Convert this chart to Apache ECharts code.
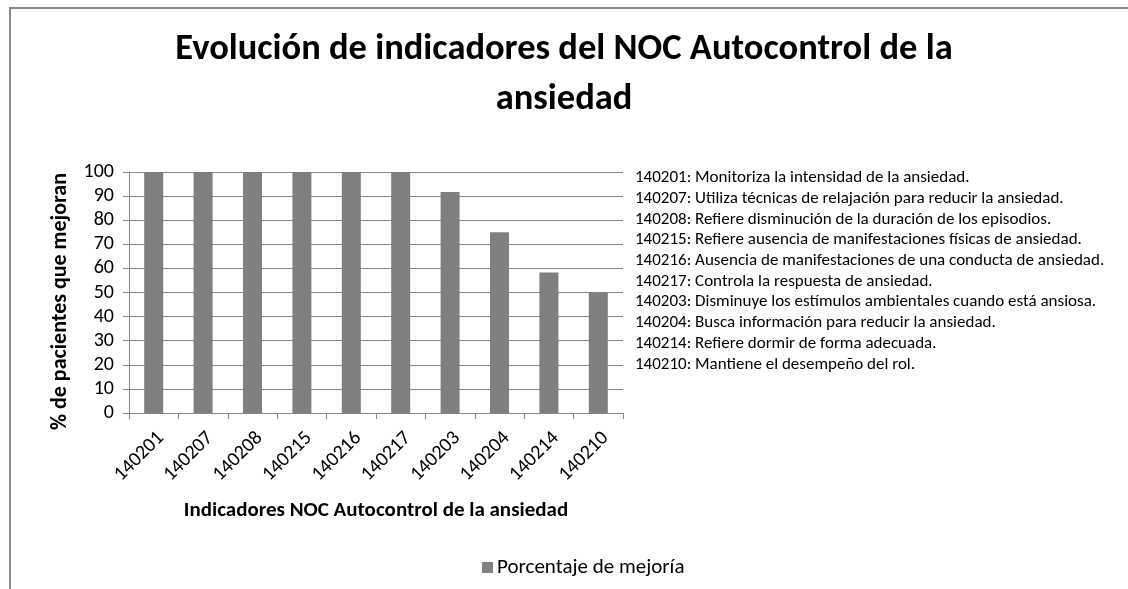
<!DOCTYPE html>
<html>
<head>
<meta charset="utf-8">
<script src="https://cdn.jsdelivr.net/npm/echarts@6/dist/echarts.min.js"></script>
<style>html,body{margin:0;padding:0;background:#fff}#c{width:1128px;height:589px}</style>
</head>
<body>
<div id="c"></div>
<script>
var categories = ['140201','140207','140208','140215','140216','140217','140203','140204','140214','140210'];
var values = [100, 100, 100, 100, 100, 100, 91.7, 75, 58.3, 50];
var descriptions = [
  '140201: Monitoriza la intensidad de la ansiedad.',
  '140207: Utiliza técnicas de relajación para reducir la ansiedad.',
  '140208: Refiere disminución de la duración de los episodios.',
  '140215: Refiere ausencia de manifestaciones físicas de ansiedad.',
  '140216: Ausencia de manifestaciones de una conducta de ansiedad.',
  '140217: Controla la respuesta de ansiedad.',
  '140203: Disminuye los estímulos ambientales cuando está ansiosa.',
  '140204: Busca información para reducir la ansiedad.',
  '140214: Refiere dormir de forma adecuada.',
  '140210: Mantiene el desempeño del rol.'
];
var yTicks = [0, 10, 20, 30, 40, 50, 60, 70, 80, 90, 100];

var FONT = "Carlito, 'Open Sans', sans-serif";
var chart = echarts.init(document.getElementById('c'));
var graphics = [
  {type:'line', shape:{x1:10, y1:8, x2:1128, y2:8}, style:{stroke:'#878787', lineWidth:2}, silent:true},
  {type:'line', shape:{x1:10, y1:7, x2:10, y2:589}, style:{stroke:'#878787', lineWidth:2}, silent:true}
];
descriptions.forEach(function(d, i){
  graphics.push({type:'text', x:635, y:178 + i*20.7,
    style:{text:d, font:'17px ' + FONT, fill:'#000', verticalAlign:'middle', align:'left'}, silent:true});
});
chart.setOption({
  animation:false,
  title:{
    text:'Evolución de indicadores del NOC Autocontrol de la\nansiedad',
    left:'center', top:20,
    textStyle:{fontFamily:FONT, fontWeight:'bold', fontSize:36.5, lineHeight:50, color:'#000'}
  },
  legend:{
    top:552, left:477, itemWidth:11, itemHeight:11, itemGap:6,
    icon:'rect',
    textStyle:{fontFamily:FONT, fontSize:21, color:'#000', padding:[0,0,0,-1]},
    data:['Porcentaje de mejoría']
  },
  grid:{left:129, top:172, width:494, height:241, containLabel:false},
  xAxis:{
    type:'category', data:categories,
    name:'Indicadores NOC Autocontrol de la ansiedad',
    nameLocation:'middle', nameGap:87,
    nameTextStyle:{fontFamily:FONT, fontWeight:'bold', fontSize:21, color:'#000'},
    axisLine:{lineStyle:{color:'#868686'}},
    axisTick:{show:true, alignWithLabel:false, length:6, lineStyle:{color:'#868686'}},
    axisLabel:{rotate:45, fontFamily:FONT, fontSize:20, color:'#000', margin:15,
      verticalAlign:'top', interval:0}
  },
  yAxis:{
    type:'value', min:0, max:100, interval:10,
    name:'% de pacientes que mejoran',
    nameLocation:'middle', nameGap:58,
    nameTextStyle:{fontFamily:FONT, fontWeight:'bold', fontSize:22, color:'#000', padding:[0,18,0,0]},
    axisLine:{show:true, lineStyle:{color:'#868686'}},
    axisTick:{show:true, length:6, lineStyle:{color:'#868686'}},
    axisLabel:{fontFamily:FONT, fontSize:20, color:'#000', margin:15,
      formatter:function(v){ return yTicks.indexOf(v) >= 0 ? String(v) : ''; }},
    splitLine:{lineStyle:{color:'#868686'}}
  },
  series:[{
    name:'Porcentaje de mejoría', type:'bar', data:values,
    barWidth:19,
    itemStyle:{color:'#7f7f7f'}
  }],
  graphic:graphics
});
</script>
</body>
</html>
